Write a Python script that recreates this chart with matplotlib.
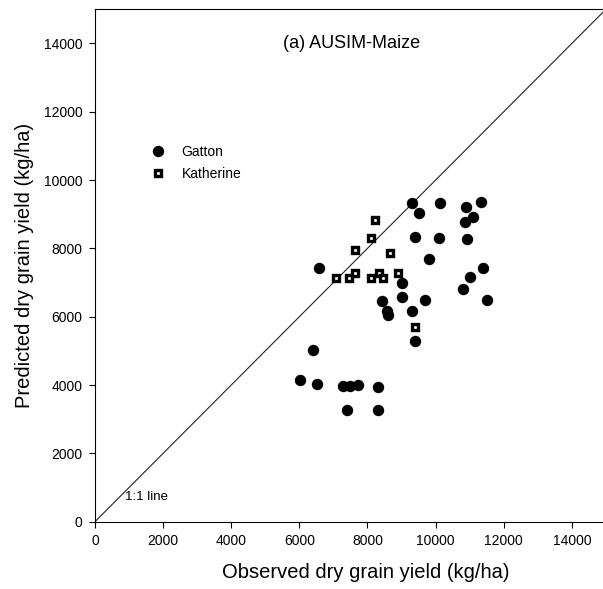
import matplotlib
matplotlib.use("Agg")
import matplotlib.pyplot as plt

plt.rcParams['font.family'] = ['Liberation Sans', 'DejaVu Sans']

# --- Data (kg/ha) ---
gatton_obs = [9313, 9510, 10117, 10889, 11338, 11104, 10869, 9384, 10106, 10910,
              9812, 6584, 11380, 10998, 10801, 11506, 9025, 9025, 8415, 9695,
              8562, 8600, 9304, 9401, 6399, 6008, 6507, 7288, 7493, 7711,
              8306, 7397, 8298]
gatton_pred = [9330, 9037, 9338, 9221, 9359, 8920, 8773, 8343, 8296, 8276,
               7699, 7418, 7418, 7172, 6812, 6490, 6979, 6569, 6470, 6490,
               6177, 6060, 6168, 5298, 5035, 4139, 4022, 3981, 3981, 4010,
               3943, 3279, 3279]

katherine_obs = [8210, 8092, 7640, 8659, 7065, 7447, 7623, 8092, 8327, 8462, 8885, 9401]
katherine_pred = [8832, 8314, 7945, 7866, 7143, 7143, 7272, 7143, 7289, 7143, 7272, 5708]

AX_MAX = 15000
TICKS = list(range(0, 15000, 2000))

fig = plt.figure(figsize=(6.03, 5.89), dpi=100)
ax = fig.add_axes([0.1575, 0.1143, 0.8474, 0.870])

# 1:1 line
ax.plot([0, AX_MAX], [0, AX_MAX], color='#222222', lw=0.8, zorder=1)

ax.plot(gatton_obs, gatton_pred, 'o', ls='none', color='black', ms=7.2,
        label='Gatton', zorder=3)
ax.plot(katherine_obs, katherine_pred, 's', ls='none', mfc='white', mec='black',
        mew=2.4, ms=3.9, label='Katherine', zorder=3)

ax.set_xlim(0, AX_MAX)
ax.set_ylim(0, AX_MAX)
ax.set_xticks(TICKS)
ax.set_yticks(TICKS)
ax.tick_params(direction='out', length=4.5, width=0.8, labelsize=10, pad=4.5)
for s in ax.spines.values():
    s.set_linewidth(0.8)
ax.spines['right'].set_visible(False)

ax.set_xlabel('Observed dry grain yield (kg/ha)', fontsize=14.5, labelpad=11)
ax.xaxis.label.set_x(0.529)
ax.set_ylabel('Predicted dry grain yield (kg/ha)', fontsize=14.5, labelpad=7)

ax.text(5520, 14000, '(a) AUSIM-Maize', fontsize=13, ha='left', va='center')
ax.text(880, 720, '1:1 line', fontsize=9.5, ha='left', va='center')

ax.legend(loc='upper left', bbox_to_anchor=(0.110, 0.736), frameon=False,
          fontsize=10, handlelength=1.0, handletextpad=1.2, labelspacing=0.6,
          borderpad=0, borderaxespad=0, numpoints=1)

fig.savefig('out.png', dpi=100)
